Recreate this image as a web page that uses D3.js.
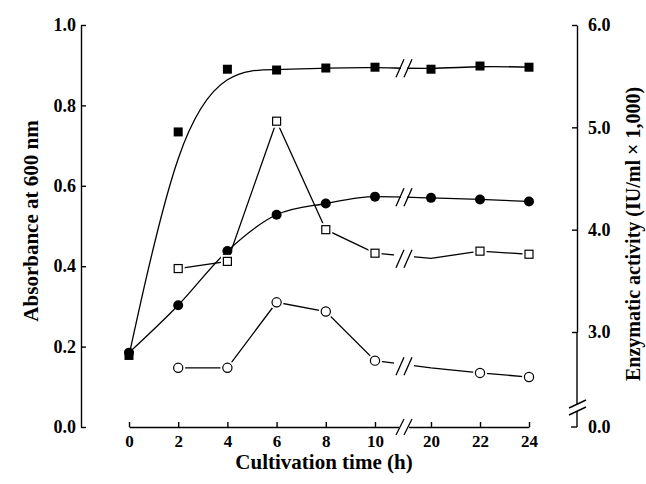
<!DOCTYPE html>
<html>
<head>
<meta charset="utf-8">
<script src="https://cdn.jsdelivr.net/npm/d3@7"></script>
<style>
  body { margin: 0; background: #fff; }
  text { font-family: "Liberation Serif", "Times New Roman", serif; font-weight: bold; fill: #000; }
  .axis path, .axis line { stroke: #000; stroke-width: 1.4; }
</style>
</head>
<body>
<div id="chart"></div>
<script>
// time points (h), axis is broken between 10 and 20
const hours = [0, 2, 4, 6, 8, 10, 20, 22, 24];
const openHours = [2, 4, 6, 8, 10, 20, 22, 24];
const openNoMarker = [20]; // line passes here but no symbol drawn

// absorbance at 600 nm (left axis)
const absSquare = [0.178, 0.734, 0.890, 0.888, 0.893, 0.895, 0.890, 0.898, 0.895];
const absCircle = [0.185, 0.303, 0.438, 0.528, 0.556, 0.573, 0.570, 0.566, 0.561];

// enzymatic activity (right axis)
const actSquare = [3.62, 3.69, 5.06, 4.00, 3.77, 3.72, 3.79, 3.76];
const actCircle = [2.65, 2.65, 3.29, 3.20, 2.72, 2.65, 2.60, 2.56];

const leftTicks = [0, 0.2, 0.4, 0.6, 0.8, 1.0];
const rightTicks = [3, 4, 5, 6];

const width = 646, height = 484;

const x = d3.scaleLinear().domain([0, 10, 20, 24]).range([129, 375, 431, 529]);
const yL = d3.scaleLinear().domain([0, 1]).range([427, 25]);
const yR = d3.scaleLinear().domain([3, 6]).range([332, 25]);

const svg = d3.select("#chart").append("svg")
    .attr("width", width)
    .attr("height", height)
    .style("background", "#fff");

// axes
const gL = svg.append("g").attr("class", "axis")
    .attr("transform", "translate(81,0)")
    .call(d3.axisLeft(yL).tickValues(leftTicks).tickSize(-5).tickSizeOuter(0).tickPadding(5).tickFormat(d3.format(".1f")));

const gB = svg.append("g").attr("class", "axis")
    .attr("transform", "translate(0," + yL(0) + ")")
    .call(d3.axisBottom(x).tickValues(hours).tickSize(-5).tickSizeOuter(0).tickPadding(8).tickFormat(d3.format("d")));

const gR = svg.append("g").attr("class", "axis")
    .attr("transform", "translate(577,0)")
    .call(d3.axisRight(yR).tickValues(rightTicks).tickSize(-5).tickSizeOuter(0).tickPadding(11).tickFormat(d3.format(".1f")));

svg.selectAll(".axis text").style("font-size", "18px").style("font-family", "Liberation Serif").style("font-weight", "bold");
gB.selectAll("text").style("font-size", "17px");

// right axis below 3.0 down to the break and the 0.0 tick
const rb = svg.append("g").attr("class", "axis");
rb.append("line").attr("x1", 577).attr("x2", 577).attr("y1", yR(3)).attr("y2", 404).attr("stroke", "#000").attr("stroke-width", 1.4);
rb.append("line").attr("x1", 577).attr("x2", 577).attr("y1", 411).attr("y2", yL(0)).attr("stroke", "#000").attr("stroke-width", 1.4);
rb.append("line").attr("x1", 571).attr("x2", 577).attr("y1", yL(0)).attr("y2", yL(0)).attr("stroke", "#000").attr("stroke-width", 1.4);
[0, 7].forEach(o => {
  rb.append("line").attr("x1", 569).attr("x2", 586).attr("y1", 408 + o).attr("y2", 400 + o)
    .attr("stroke", "#000").attr("stroke-width", 1.3);
});
rb.append("text").attr("x", 588).attr("y", yL(0)).attr("dy", "0.32em")
  .style("font-size", "18px").text("0.0");

// series lines
const lineAbs = (curve) => d3.line().x((d, i) => x(hours[i])).y(d => yL(d)).curve(curve);
const lineAct = d3.line().x((d, i) => x(openHours[i])).y(d => yR(d));

svg.append("path").datum(absSquare).attr("d", lineAbs(d3.curveBasis))
  .attr("fill", "none").attr("stroke", "#000").attr("stroke-width", 1.3);
svg.append("path").datum(absCircle).attr("d", lineAbs(d3.curveMonotoneX))
  .attr("fill", "none").attr("stroke", "#000").attr("stroke-width", 1.3);
svg.append("path").datum(actSquare).attr("d", lineAct)
  .attr("fill", "none").attr("stroke", "#000").attr("stroke-width", 1.3);
svg.append("path").datum(actCircle).attr("d", lineAct)
  .attr("fill", "none").attr("stroke", "#000").attr("stroke-width", 1.3);

// break marks (//) at the gap between 10 h and 20 h
const bx = (x(10) + x(20)) / 2 + 1;
function breakMark(cy, gap, h) {
  const g = svg.append("g");
  g.append("rect").attr("x", bx - gap / 2).attr("y", cy - h / 2 + 2).attr("width", gap).attr("height", h - 4).attr("fill", "#fff");
  [-4, 4].forEach(o => {
    g.append("line")
      .attr("x1", bx + o - 4).attr("y1", cy + h / 2)
      .attr("x2", bx + o + 4).attr("y2", cy - h / 2)
      .attr("stroke", "#000").attr("stroke-width", 1.3);
  });
}
const mid = (arr, i10, i20, y) => (y(arr[i10]) + y(arr[i20])) / 2;
breakMark(yL(0), 10, 16);
breakMark(mid(absSquare, 5, 6, yL), 6, 18);
breakMark(mid(absCircle, 5, 6, yL), 6, 18);
breakMark(mid(actSquare, 4, 5, yR) + 3, 20, 18);
breakMark(mid(actCircle, 4, 5, yR) + 2, 20, 18);

// markers
svg.append("g").selectAll("rect").data(absSquare).join("rect")
  .attr("x", (d, i) => x(hours[i]) - 4.5).attr("y", d => yL(d) - 4.5)
  .attr("width", 9).attr("height", 9).attr("fill", "#000");

svg.append("g").selectAll("circle").data(absCircle).join("circle")
  .attr("cx", (d, i) => x(hours[i])).attr("cy", d => yL(d)).attr("r", 5).attr("fill", "#000");

const openSq = openHours.map((h, i) => ({ h, v: actSquare[i] })).filter(d => !openNoMarker.includes(d.h));
const openCi = openHours.map((h, i) => ({ h, v: actCircle[i] })).filter(d => !openNoMarker.includes(d.h));

svg.append("g").selectAll("rect.halo").data(openSq).join("rect")
  .attr("x", d => x(d.h) - 6.5).attr("y", d => yR(d.v) - 6.5)
  .attr("width", 13).attr("height", 13).attr("fill", "#fff");
svg.append("g").selectAll("rect").data(openSq).join("rect")
  .attr("x", d => x(d.h) - 4).attr("y", d => yR(d.v) - 4)
  .attr("width", 8).attr("height", 8).attr("fill", "#fff").attr("stroke", "#000").attr("stroke-width", 1.2);

svg.append("g").selectAll("circle.halo").data(openCi).join("circle")
  .attr("cx", d => x(d.h)).attr("cy", d => yR(d.v)).attr("r", 7).attr("fill", "#fff");
svg.append("g").selectAll("circle").data(openCi).join("circle")
  .attr("cx", d => x(d.h)).attr("cy", d => yR(d.v)).attr("r", 4.6)
  .attr("fill", "#fff").attr("stroke", "#000").attr("stroke-width", 1.2);

// axis titles
svg.append("text")
  .attr("transform", "translate(38," + ((yL(0) + yL(1)) / 2 - 5) + ") rotate(-90)")
  .style("text-anchor", "middle").style("font-size", "21px")
  .text("Absorbance at 600 nm");

svg.append("text")
  .attr("transform", "translate(640,234) rotate(-90)")
  .style("text-anchor", "middle").style("font-size", "20px")
  .text("Enzymatic activity (IU/ml \u00d7 1,000)");

svg.append("text")
  .attr("x", (x(0) + x(24)) / 2 - 5).attr("y", 469)
  .style("text-anchor", "middle").style("font-size", "21px")
  .text("Cultivation time (h)");
</script>
</body>
</html>
